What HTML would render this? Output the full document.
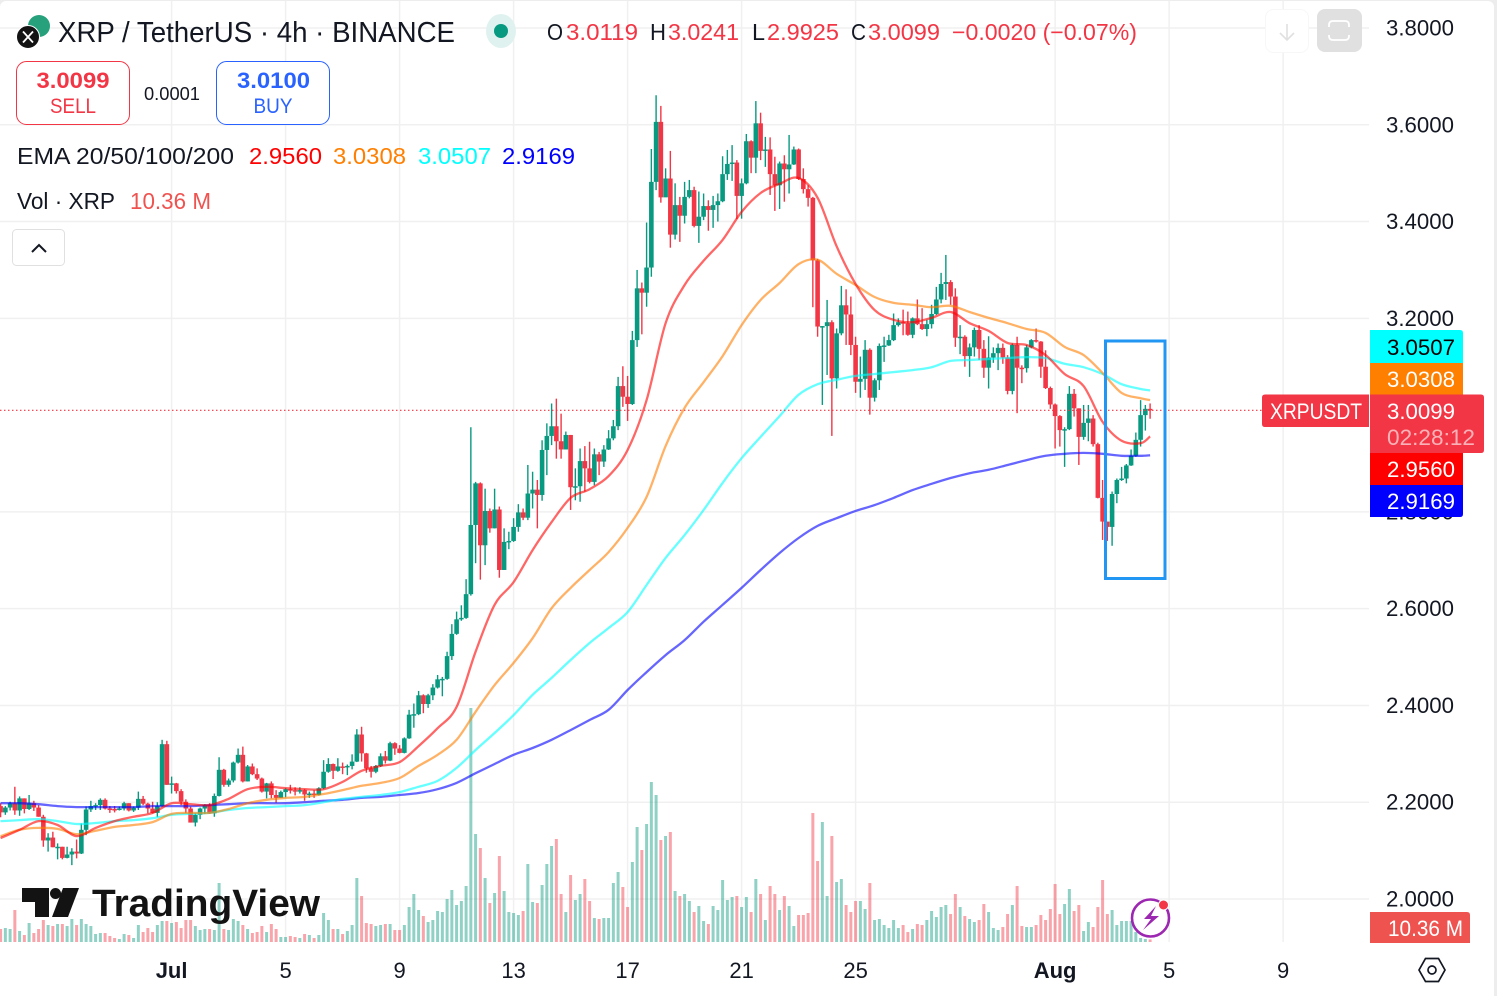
<!DOCTYPE html>
<html lang="en">
<head>
<meta charset="utf-8">
<title>XRP / TetherUS 4h chart</title>
<style>
html,body{margin:0;padding:0;background:#ededed;width:1497px;height:996px;overflow:hidden}
svg{display:block}
text{font-family:"Liberation Sans",sans-serif;fill:#131722}
</style>
</head>
<body>
<svg id="chart" width="1497" height="996" viewBox="0 0 1497 996" xmlns="http://www.w3.org/2000/svg">
  <rect x="0" y="1" width="1494" height="1000" rx="6" fill="#ffffff"/>
  <g id="grid"></g>
  <g id="volumes"></g>
  <g id="candles"></g>
  <g id="emas"></g>
  <g id="priceline"></g>

  <rect x="1105.5" y="341" width="59.5" height="237.5" fill="none" stroke="#2196f3" stroke-width="3"/>

  <g id="yticks"></g>
  <g id="xticks"></g>

  <!-- header -->
  <g>
    <circle cx="39" cy="26" r="11" fill="#26a17b"/>
    <circle cx="28" cy="37" r="11.5" fill="#131313" stroke="#fff" stroke-width="1"/>
    <path d="M23 31.5 L33 42.5 M33 31.5 L23 42.5" stroke="#fff" stroke-width="1.8" fill="none"/>
  </g>
  <text x="58" y="42" font-size="29" textLength="397" lengthAdjust="spacingAndGlyphs">XRP / TetherUS · 4h · BINANCE</text>
  <ellipse cx="501" cy="31" rx="15" ry="17" fill="#e0f2ef"/>
  <circle cx="501" cy="31" r="7" fill="#089981"/>
  <g font-size="23">
    <text x="547" y="40" font-size="23" textLength="16" lengthAdjust="spacingAndGlyphs">O</text>
    <text x="566" y="40" font-size="23" textLength="72" lengthAdjust="spacingAndGlyphs" style="fill:#f23645">3.0119</text>
    <text x="650" y="40" font-size="23" textLength="16" lengthAdjust="spacingAndGlyphs">H</text>
    <text x="668" y="40" font-size="23" textLength="71" lengthAdjust="spacingAndGlyphs" style="fill:#f23645">3.0241</text>
    <text x="752" y="40" font-size="23" textLength="13" lengthAdjust="spacingAndGlyphs">L</text>
    <text x="767" y="40" font-size="23" textLength="72" lengthAdjust="spacingAndGlyphs" style="fill:#f23645">2.9925</text>
    <text x="851" y="40" font-size="23" textLength="15" lengthAdjust="spacingAndGlyphs">C</text>
    <text x="868" y="40" font-size="23" textLength="72" lengthAdjust="spacingAndGlyphs" style="fill:#f23645">3.0099</text>
    <text x="952" y="40" font-size="23" textLength="185" lengthAdjust="spacingAndGlyphs" style="fill:#f23645">−0.0020 (−0.07%)</text>
  </g>

  <!-- trade buttons -->
  <g>
    <rect x="16.5" y="61.5" width="113" height="63" rx="10" fill="#fff" stroke="#f23645" stroke-width="1"/>
    <text x="73" y="88" font-size="22" font-weight="bold" text-anchor="middle" textLength="73" lengthAdjust="spacingAndGlyphs" style="fill:#f23645">3.0099</text>
    <text x="73" y="113" font-size="21" text-anchor="middle" textLength="46" lengthAdjust="spacingAndGlyphs" style="fill:#f23645">SELL</text>
  </g>
  <text x="144" y="100" font-size="18" textLength="56" lengthAdjust="spacingAndGlyphs">0.0001</text>
  <g>
    <rect x="216.5" y="61.5" width="113" height="63" rx="10" fill="#fff" stroke="#2962ff" stroke-width="1"/>
    <text x="273.5" y="88" font-size="22" font-weight="bold" text-anchor="middle" textLength="73" lengthAdjust="spacingAndGlyphs" style="fill:#2962ff">3.0100</text>
    <text x="273" y="113" font-size="21" text-anchor="middle" textLength="39" lengthAdjust="spacingAndGlyphs" style="fill:#2962ff">BUY</text>
  </g>

  <!-- indicator legend -->
  <g>
    <text x="17" y="164" font-size="23" textLength="217" lengthAdjust="spacingAndGlyphs">EMA 20/50/100/200</text>
    <text x="249" y="164" font-size="23" textLength="73" lengthAdjust="spacingAndGlyphs" style="fill:#ff0000">2.9560</text>
    <text x="333" y="164" font-size="23" textLength="73" lengthAdjust="spacingAndGlyphs" style="fill:#ff7f00">3.0308</text>
    <text x="418" y="164" font-size="23" textLength="73" lengthAdjust="spacingAndGlyphs" style="fill:#00ffff">3.0507</text>
    <text x="502" y="164" font-size="23" textLength="73" lengthAdjust="spacingAndGlyphs" style="fill:#0000ff">2.9169</text>
  </g>
  <g>
    <text x="17" y="209" font-size="23" textLength="98" lengthAdjust="spacingAndGlyphs">Vol · XRP</text>
    <text x="130" y="209" font-size="23" textLength="81" lengthAdjust="spacingAndGlyphs" style="fill:#ef5350">10.36 M</text>
  </g>
  <g>
    <rect x="12.5" y="229.5" width="52" height="36" rx="4" fill="#fff" stroke="#e0e0e0"/>
    <path d="M32 252 L39 245 L46 252" fill="none" stroke="#131722" stroke-width="2"/>
  </g>

  <!-- top-right buttons -->
  <g>
    <rect x="1265.5" y="9.5" width="43" height="43" rx="8" fill="#fff" stroke="#f7f7f7"/>
    <path d="M1287 24 V40 M1280 33 L1287 40 L1294 33" fill="none" stroke="#e0e0e0" stroke-width="1.6"/>
  </g>
  <g>
    <rect x="1317" y="9" width="45" height="43" rx="8" fill="#e0e0e0"/>
    <path d="M1329 27 V25 Q1329 21 1333 21 H1345 Q1349 21 1349 25 V27 M1329 35 V36 Q1329 40 1333 40 H1345 Q1349 40 1349 36 V35" fill="none" stroke="#ffffff" stroke-width="1.8"/>
  </g>

  <!-- price labels -->
  <g>
    <path d="M1370 330 H1460 Q1463 330 1463 333 V363 H1370 Z" fill="#00ffff"/>
    <text x="1387" y="355" font-size="22" textLength="68" lengthAdjust="spacingAndGlyphs" style="fill:#000">3.0507</text>
  </g>
  <g>
    <rect x="1370" y="363" width="93" height="32" fill="#ff7f00"/>
    <text x="1387" y="387" font-size="22" textLength="68" lengthAdjust="spacingAndGlyphs" style="fill:#fff">3.0308</text>
  </g>
  <g>
    <path d="M1265 394.5 H1369 V427 H1265 Q1262 427 1262 424 V397.5 Q1262 394.5 1265 394.5 Z" fill="#f23645"/>
    <text x="1270" y="419" font-size="22" textLength="92" lengthAdjust="spacingAndGlyphs" style="fill:#fff">XRPUSDT</text>
  </g>
  <g>
    <path d="M1370 394.5 H1481 Q1484 394.5 1484 397.5 V450 Q1484 453 1481 453 H1370 Z" fill="#f23645"/>
    <text x="1387" y="419" font-size="22" textLength="68" lengthAdjust="spacingAndGlyphs" style="fill:#fff">3.0099</text>
    <text x="1387" y="445" font-size="22" textLength="88" lengthAdjust="spacingAndGlyphs" style="fill:#fff;fill-opacity:.62">02:28:12</text>
  </g>
  <g>
    <rect x="1370" y="453" width="93" height="32" fill="#ff0000"/>
    <text x="1387" y="477" font-size="22" textLength="68" lengthAdjust="spacingAndGlyphs" style="fill:#fff">2.9560</text>
  </g>
  <g>
    <path d="M1370 485 H1463 V514 Q1463 517 1460 517 H1370 Z" fill="#0000ff"/>
    <text x="1387" y="509" font-size="22" textLength="68" lengthAdjust="spacingAndGlyphs" style="fill:#fff">2.9169</text>
  </g>
  <g>
    <path d="M1370 912 H1467 Q1470 912 1470 915 V943 H1370 Z" fill="#ef5350"/>
    <text x="1388" y="936" font-size="22" textLength="75" lengthAdjust="spacingAndGlyphs" style="fill:#fff">10.36 M</text>
  </g>

  <!-- TradingView logo -->
  <g>
    <path d="M22 888 H49 V917 H35 V902 H22 Z" fill="#131313"/>
    <circle cx="55.5" cy="893.5" r="5.5" fill="#131313"/>
    <path d="M63 888 H79 L68 917 H52 Z" fill="#131313"/>
    <text x="92" y="916" font-size="38" font-weight="bold" textLength="228" lengthAdjust="spacingAndGlyphs" style="fill:#131313">TradingView</text>
  </g>

  <!-- lightning alert -->
  <g>
    <circle cx="1150.5" cy="918" r="18.5" fill="#fff" fill-opacity=".35" stroke="#9c27b0" stroke-width="2.6"/>
    <path d="M1156 906 L1144 919 H1151 L1143 930 L1159 916 H1151 Z" fill="#9c27b0"/>
    <circle cx="1163.5" cy="905" r="5" fill="#f23645" stroke="#fff" stroke-width="1"/>
  </g>

  <!-- settings hex -->
  <g>
    <path d="M1419 970 L1425.5 958.5 H1438.5 L1445 970 L1438.5 981.5 H1425.5 Z" fill="none" stroke="#131722" stroke-width="1.7"/>
    <circle cx="1432" cy="970" r="4" fill="none" stroke="#131722" stroke-width="1.7"/>
  </g>
</svg>

<script>
// ---- Chart data (prices in USDT, volume in millions of XRP) ----
const firstOpen = 2.192;
const closes = [
2.179,2.189,2.198,2.183,2.208,2.186,2.198,2.189,2.170,2.121,
2.127,2.107,2.108,2.085,2.092,2.098,2.094,2.143,2.185,2.192,
2.194,2.205,2.187,2.186,2.185,2.187,2.198,2.183,2.189,2.207,
2.197,2.187,2.178,2.192,2.320,2.236,2.239,2.223,2.201,2.187,
2.158,2.174,2.187,2.194,2.177,2.213,2.267,2.236,2.245,2.282,
2.298,2.243,2.274,2.258,2.249,2.222,2.239,2.215,2.209,2.221,
2.227,2.225,2.223,2.225,2.216,2.218,2.215,2.229,2.263,2.279,
2.265,2.274,2.273,2.275,2.284,2.340,2.301,2.270,2.263,2.275,
2.295,2.286,2.322,2.311,2.302,2.332,2.381,2.382,2.421,2.403,
2.421,2.437,2.454,2.455,2.502,2.548,2.578,2.581,2.630,2.773,
2.859,2.731,2.802,2.766,2.805,2.680,2.738,2.740,2.769,2.799,
2.788,2.838,2.846,2.835,2.928,2.957,2.977,2.946,2.929,2.959,
2.851,2.853,2.905,2.890,2.862,2.919,2.904,2.929,2.952,2.977,
3.060,3.038,3.023,3.155,3.262,3.253,3.305,3.482,3.606,3.450,
3.489,3.373,3.434,3.412,3.451,3.465,3.391,3.410,3.432,3.424,
3.434,3.442,3.498,3.519,3.522,3.453,3.479,3.566,3.532,3.603,
3.546,3.549,3.498,3.475,3.520,3.508,3.518,3.549,3.488,3.467,
3.449,3.320,3.183,3.184,3.192,3.076,3.169,3.227,3.208,3.145,
3.069,3.075,3.135,3.036,3.072,3.143,3.144,3.155,3.186,3.192,
3.190,3.166,3.200,3.188,3.178,3.188,3.209,3.239,3.271,3.275,
3.245,3.160,3.162,3.122,3.140,3.176,3.137,3.098,3.119,3.128,
3.139,3.119,3.050,3.145,3.098,3.097,3.140,3.155,3.152,3.100,
3.056,3.022,2.998,2.969,2.971,3.044,3.014,2.955,2.984,2.993,
2.940,2.829,2.780,2.769,2.837,2.866,2.869,2.896,2.916,2.949,
3.000,3.013,3.0099];
const highs = [
2.198,2.192,2.201,2.232,2.212,2.208,2.215,2.203,2.194,2.174,
2.136,2.139,2.115,2.108,2.108,2.105,2.123,2.156,2.191,2.203,
2.198,2.208,2.208,2.192,2.192,2.191,2.201,2.198,2.191,2.222,
2.213,2.199,2.201,2.200,2.329,2.327,2.253,2.240,2.227,2.206,
2.191,2.177,2.189,2.196,2.198,2.218,2.293,2.269,2.249,2.284,
2.311,2.315,2.277,2.280,2.270,2.251,2.240,2.243,2.225,2.224,
2.229,2.236,2.231,2.231,2.227,2.222,2.225,2.231,2.287,2.291,
2.280,2.291,2.282,2.278,2.299,2.351,2.356,2.302,2.275,2.277,
2.301,2.306,2.325,2.324,2.318,2.334,2.391,2.404,2.430,2.423,
2.424,2.444,2.463,2.459,2.511,2.568,2.594,2.607,2.661,2.975,
2.862,2.861,2.848,2.807,2.848,2.811,2.766,2.759,2.787,2.816,
2.807,2.897,2.883,2.866,2.948,2.983,3.024,3.034,3.003,2.966,
2.959,2.890,2.931,2.936,2.945,2.931,2.924,2.938,2.969,2.990,
3.079,3.101,3.081,3.174,3.300,3.274,3.398,3.550,3.661,3.639,
3.510,3.546,3.479,3.451,3.482,3.486,3.472,3.462,3.458,3.444,
3.453,3.458,3.535,3.548,3.558,3.527,3.489,3.581,3.568,3.649,
3.625,3.575,3.574,3.534,3.524,3.537,3.579,3.555,3.551,3.510,
3.475,3.451,3.323,3.184,3.238,3.196,3.179,3.267,3.260,3.245,
3.162,3.121,3.155,3.138,3.076,3.148,3.162,3.166,3.210,3.200,
3.218,3.214,3.202,3.239,3.221,3.197,3.228,3.265,3.294,3.331,
3.279,3.262,3.186,3.165,3.148,3.181,3.186,3.155,3.163,3.140,
3.148,3.148,3.124,3.148,3.162,3.103,3.145,3.157,3.179,3.153,
3.134,3.059,3.024,3.000,2.975,3.060,3.054,3.014,3.021,3.021,
3.000,2.943,2.866,2.780,2.842,2.869,2.893,2.899,2.929,2.964,
3.031,3.021,3.0241];
const lows = [
2.169,2.174,2.183,2.174,2.172,2.177,2.184,2.182,2.170,2.108,
2.098,2.107,2.082,2.082,2.084,2.070,2.084,2.093,2.132,2.180,
2.184,2.184,2.185,2.178,2.179,2.183,2.183,2.181,2.180,2.184,
2.194,2.177,2.177,2.169,2.191,2.236,2.218,2.218,2.194,2.178,
2.158,2.150,2.165,2.176,2.176,2.170,2.212,2.232,2.232,2.241,
2.280,2.241,2.243,2.256,2.246,2.220,2.208,2.208,2.199,2.209,
2.210,2.218,2.214,2.218,2.203,2.209,2.209,2.214,2.227,2.261,
2.248,2.263,2.258,2.256,2.268,2.283,2.284,2.261,2.251,2.260,
2.273,2.280,2.285,2.298,2.301,2.301,2.331,2.354,2.380,2.384,
2.395,2.411,2.435,2.419,2.453,2.494,2.546,2.575,2.579,2.627,
2.694,2.660,2.690,2.757,2.766,2.664,2.680,2.723,2.738,2.759,
2.783,2.783,2.807,2.766,2.823,2.876,2.938,2.910,2.910,2.929,
2.804,2.824,2.821,2.842,2.859,2.855,2.876,2.893,2.928,2.948,
2.969,3.017,2.988,3.021,3.141,3.167,3.224,3.286,3.465,3.439,
3.462,3.346,3.363,3.358,3.396,3.448,3.388,3.356,3.403,3.381,
3.387,3.400,3.440,3.486,3.484,3.405,3.406,3.477,3.500,3.500,
3.527,3.513,3.455,3.422,3.426,3.441,3.458,3.517,3.486,3.458,
3.431,3.223,3.162,3.021,3.083,2.957,3.055,3.165,3.145,3.124,
3.046,3.036,3.052,3.001,3.028,3.052,3.110,3.143,3.153,3.183,
3.165,3.164,3.159,3.186,3.176,3.163,3.179,3.207,3.231,3.238,
3.228,3.141,3.126,3.100,3.079,3.121,3.114,3.077,3.055,3.108,
3.093,3.106,3.043,3.043,3.004,3.066,3.088,3.138,3.150,3.077,
3.054,3.013,2.931,2.935,2.893,2.969,2.997,2.897,2.949,2.946,
2.935,2.828,2.742,2.740,2.730,2.818,2.864,2.859,2.895,2.914,
2.935,2.968,2.9925];
const volumes = [
52,56,52,128,44,28,76,36,52,88,
68,64,72,72,64,92,68,92,72,64,
32,36,36,24,16,12,32,28,16,68,
40,56,40,68,84,84,76,80,56,88,
88,64,48,52,52,48,236,52,48,92,
84,68,52,36,40,64,40,72,52,20,
20,24,20,16,32,28,16,28,116,88,
52,52,32,44,68,256,184,76,72,64,
68,72,72,48,48,68,140,192,128,104,
80,88,124,120,172,208,148,164,224,936,
432,376,256,156,196,344,204,120,116,108,
124,312,160,156,228,312,384,412,192,120,
268,168,192,252,164,96,92,96,96,236,
280,220,140,320,460,368,472,640,588,408,
424,440,204,184,192,164,120,144,84,72,
144,128,248,168,180,184,140,180,120,252,
192,88,224,192,128,184,144,64,108,108,
116,516,324,480,184,424,240,252,148,120,
164,164,132,236,88,92,68,56,88,56,
68,40,52,72,68,88,124,100,140,148,
112,192,140,104,92,80,88,152,120,56,
48,60,112,148,224,64,60,60,68,108,
88,132,232,112,152,212,124,148,44,80,
60,140,248,112,128,68,84,84,84,40,
16,12,10.36];

// EMA samples: read at these candle indices
const emaIndex = [
0,4,8,12,16,20,24,28,32,36,
40,44,48,52,56,60,64,68,72,76,
80,84,88,92,96,100,104,108,112,116,
120,124,128,132,136,140,144,148,152,156,
160,164,168,172,176,180,184,188,192,196,
200,204,208,212,216,220,224,228,232,236,
240,242];
const ema20 = [
2.126,2.143,2.161,2.153,2.130,2.147,2.161,2.170,2.178,2.198,
2.196,2.194,2.207,2.227,2.232,2.229,2.227,2.227,2.242,2.265,
2.275,2.283,2.316,2.353,2.397,2.511,2.608,2.655,2.721,2.779,
2.829,2.847,2.874,2.928,3.031,3.190,3.269,3.319,3.362,3.420,
3.459,3.478,3.490,3.449,3.349,3.271,3.217,3.197,3.192,3.201,
3.213,3.190,3.174,3.149,3.145,3.124,3.085,3.060,2.986,2.947,
2.942,2.956];
const ema50 = [
2.130,2.143,2.147,2.145,2.134,2.141,2.149,2.153,2.159,2.176,
2.178,2.178,2.186,2.198,2.205,2.209,2.211,2.217,2.225,2.234,
2.240,2.250,2.275,2.298,2.329,2.387,2.442,2.488,2.539,2.601,
2.643,2.680,2.717,2.767,2.831,2.936,3.015,3.068,3.122,3.186,
3.238,3.273,3.312,3.321,3.292,3.269,3.244,3.232,3.228,3.223,
3.226,3.213,3.201,3.190,3.178,3.170,3.141,3.124,3.087,3.046,
3.035,3.031];
const ema100 = [
2.161,2.163,2.165,2.161,2.155,2.157,2.161,2.163,2.167,2.174,
2.176,2.178,2.184,2.188,2.190,2.192,2.194,2.200,2.207,2.211,
2.215,2.221,2.232,2.244,2.271,2.308,2.343,2.380,2.422,2.457,
2.494,2.529,2.560,2.593,2.649,2.705,2.752,2.804,2.860,2.911,
2.955,2.998,3.042,3.064,3.073,3.081,3.085,3.089,3.093,3.099,
3.112,3.114,3.116,3.118,3.120,3.118,3.106,3.099,3.085,3.064,
3.054,3.051];
const ema200 = [
2.198,2.198,2.196,2.192,2.190,2.190,2.190,2.190,2.192,2.192,
2.192,2.194,2.196,2.198,2.198,2.198,2.200,2.203,2.205,2.209,
2.211,2.215,2.219,2.227,2.240,2.260,2.279,2.298,2.312,2.329,
2.349,2.370,2.391,2.432,2.469,2.504,2.535,2.573,2.608,2.643,
2.680,2.715,2.746,2.771,2.787,2.802,2.814,2.829,2.845,2.858,
2.870,2.880,2.887,2.897,2.907,2.916,2.920,2.922,2.920,2.916,
2.916,2.917];

const priceTicks = [3.8,3.6,3.4,3.2,2.8,2.6,2.4,2.2,2.0];
const priceTickLabels = ["3.8000","3.6000","3.4000","3.2000","2.8000","2.6000","2.4000","2.2000","2.0000"];
const dateTickIndex = [36,60,84,108,132,156,180,222,246,270];
const dateTickLabels = ["Jul","5","9","13","17","21","25","Aug","5","9"];
const dateTickBold = ["Jul","Aug"];
const lastPrice = 3.0099;

// ---- Axis functions ----
const NS = "http://www.w3.org/2000/svg";
const PLOT_RIGHT = 1369, PLOT_BOTTOM = 942;
function xOf(i){ return 0.6 + 4.75 * i; }
function yOf(p){ return 28 + (3.8 - p) * 483.9; }
function volY(v){ return PLOT_BOTTOM - v / 4; }
function mk(tag, attrs, parent){
  const el = document.createElementNS(NS, tag);
  for (const k in attrs) el.setAttribute(k, attrs[k]);
  parent.appendChild(el);
  return el;
}

const UP = "#089981", DOWN = "#f23645";
const gridG = document.getElementById("grid");
const volG = document.getElementById("volumes");
const candleG = document.getElementById("candles");
const emaG = document.getElementById("emas");
const lineG = document.getElementById("priceline");
const yG = document.getElementById("yticks");
const xG = document.getElementById("xticks");

// grid + price ticks
priceTicks.forEach(function(p, k){
  const line = mk("line", {x1:0, x2:PLOT_RIGHT, y1:yOf(p), y2:yOf(p), stroke:"#f0f0f0", "stroke-width":1.5}, gridG);
  
  
  const t = mk("text", {x:1386, y:yOf(p)+7.5, "font-size":22, textLength:68, lengthAdjust:"spacingAndGlyphs"}, yG);
  t.textContent = priceTickLabels[k];
  
  
});

// grid + date ticks
dateTickIndex.forEach(function(i, k){
  const line = mk("line", {x1:xOf(i), x2:xOf(i), y1:1, y2:PLOT_BOTTOM, stroke:"#f0f0f0", "stroke-width":1.5}, gridG);
  
  
  const bold = dateTickBold.indexOf(dateTickLabels[k]) >= 0;
  const t = mk("text", {x:xOf(i), y:978, "font-size":22, "text-anchor":"middle", "font-weight":bold?"bold":"normal"}, xG);
  t.textContent = dateTickLabels[k];
  
  
});

// volume + candles
closes.forEach(function(c, i){
  const o = i === 0 ? firstOpen : closes[i-1];
  const rising = c >= o;
  const color = rising ? UP : DOWN;
  const x = xOf(i);

  const bar = mk("rect", {
    x:x-1.5, width:3, y:volY(volumes[i]), height:PLOT_BOTTOM-volY(volumes[i]),
    fill: rising ? "rgba(8,153,129,.45)" : "rgba(242,54,69,.45)"
  }, volG);
  
  

  const wick = mk("line", {x1:x, x2:x, y1:yOf(highs[i]), y2:yOf(lows[i]), stroke:color, "stroke-width":1.4}, candleG);
  
  

  const top = yOf(Math.max(o, c)), bot = yOf(Math.min(o, c));
  const body = mk("rect", {x:x-2.3, width:4.6, y:top, height:Math.max(1.5, bot-top), fill:color}, candleG);
  
  
});

// EMA lines: smooth curve through the sampled values
function emaPath(series){
  const pts = series.map(function(v, k){ return [xOf(emaIndex[k]), yOf(v)]; });
  let d = "M" + pts[0][0].toFixed(1) + " " + pts[0][1].toFixed(1);
  for (let k = 0; k < pts.length - 1; k++){
    const p0 = pts[Math.max(0, k-1)], p1 = pts[k], p2 = pts[k+1], p3 = pts[Math.min(pts.length-1, k+2)];
    const c1x = p1[0] + (p2[0]-p0[0])/6, c1y = p1[1] + (p2[1]-p0[1])/6;
    const c2x = p2[0] - (p3[0]-p1[0])/6, c2y = p2[1] - (p3[1]-p1[1])/6;
    d += " C" + c1x.toFixed(1) + " " + c1y.toFixed(1) + " " + c2x.toFixed(1) + " " + c2y.toFixed(1) + " " + p2[0].toFixed(1) + " " + p2[1].toFixed(1);
  }
  return d;
}
const ema200Line = mk("path", {d:emaPath(ema200), fill:"none", stroke:"rgba(0,0,255,.6)", "stroke-width":2.3, "stroke-linejoin":"round"}, emaG);


const ema100Line = mk("path", {d:emaPath(ema100), fill:"none", stroke:"rgba(0,255,255,.6)", "stroke-width":2.3, "stroke-linejoin":"round"}, emaG);


const ema50Line = mk("path", {d:emaPath(ema50), fill:"none", stroke:"rgba(255,127,0,.6)", "stroke-width":2.3, "stroke-linejoin":"round"}, emaG);


const ema20Line = mk("path", {d:emaPath(ema20), fill:"none", stroke:"rgba(255,0,0,.6)", "stroke-width":2.3, "stroke-linejoin":"round"}, emaG);



// last price dotted line
const pl = mk("line", {x1:0, x2:1262, y1:yOf(lastPrice), y2:yOf(lastPrice), stroke:"#f23645", "stroke-width":1.2, "stroke-dasharray":"1.5 2.5"}, lineG);


</script>
</body>
</html>
